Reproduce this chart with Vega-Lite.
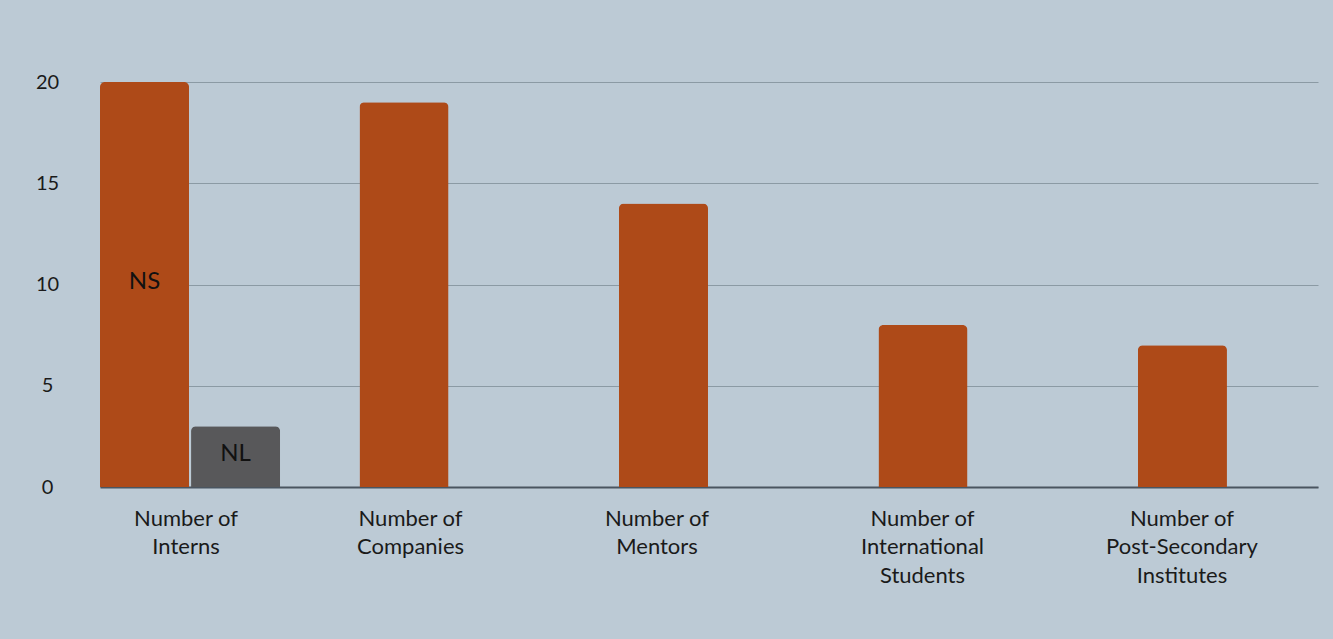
{
  "$schema": "https://vega.github.io/schema/vega-lite/v6.json",
  "width": 1218,
  "height": 405,
  "autosize": {"type": "none"},
  "padding": {"left": 100, "top": 82, "right": 15, "bottom": 152},
  "background": "#bccad5",
  "config": {
    "view": {"stroke": null},
    "font": "Lato",
    "axis": {"labelFont": "Lato", "labelColor": "#1a1a1a"}
  },
  "data": {
    "values": [
      {"category": "Number of Interns", "series": "NS", "value": 20},
      {"category": "Number of Interns", "series": "NL", "value": 3},
      {"category": "Number of Companies", "series": "NS", "value": 19},
      {"category": "Number of Mentors", "series": "NS", "value": 14},
      {"category": "Number of International Students", "series": "NS", "value": 8},
      {"category": "Number of Post-Secondary Institutes", "series": "NS", "value": 7}
    ]
  },
  "encoding": {
    "x": {
      "field": "category",
      "type": "nominal",
      "sort": null,
      "scale": {"paddingInner": 0.306, "paddingOuter": 0},
      "axis": {
        "title": null,
        "labelAngle": 0,
        "labelFontSize": 22,
        "labelLineHeight": 28.5,
        "labelPadding": 21,
        "labelBaseline": "top",
        "ticks": false,
        "domainColor": "#4a5560",
        "domainWidth": 2,
        "labelExpr": "split(replace(replace(replace(datum.label, 'Number of ', 'Number~of '), regexp(' ', 'g'), '|'), '~', ' '), '|')",
        "labelOffset": {"expr": "datum.value == 'Number of Interns' ? -4 : datum.value == 'Number of Companies' ? -39 : datum.value == 'Number of Mentors' ? -52 : -46"}
      }
    },
    "xOffset": {
      "field": "series",
      "type": "nominal",
      "scale": {"domain": ["NS", "NL"], "paddingInner": 0.022, "paddingOuter": 0}
    }
  },
  "layer": [
    {
      "mark": {"type": "bar", "cornerRadiusTopLeft": 5, "cornerRadiusTopRight": 5},
      "encoding": {
        "y": {
          "field": "value",
          "type": "quantitative",
          "scale": {"domain": [0, 20], "nice": false},
          "axis": {
            "title": null,
            "values": [0, 5, 10, 15, 20],
            "labelFontSize": 20,
            "labelAlign": "center",
            "labelPadding": 53,
            "ticks": false,
            "domain": false,
            "gridColor": "#8b9aa4",
            "gridWidth": 1
          }
        },
        "color": {
          "field": "series",
          "type": "nominal",
          "scale": {"domain": ["NS", "NL"], "range": ["#ae4a18", "#58585a"]},
          "legend": null
        }
      }
    },
    {
      "transform": [
        {"filter": "datum.category == 'Number of Interns'"},
        {"calculate": "datum.value / 2", "as": "mid"}
      ],
      "mark": {"type": "text", "fontSize": 24, "color": "#111111", "baseline": "middle", "align": "center", "dy": -3},
      "encoding": {
        "y": {"field": "mid", "type": "quantitative"},
        "text": {"field": "series"}
      }
    }
  ]
}
